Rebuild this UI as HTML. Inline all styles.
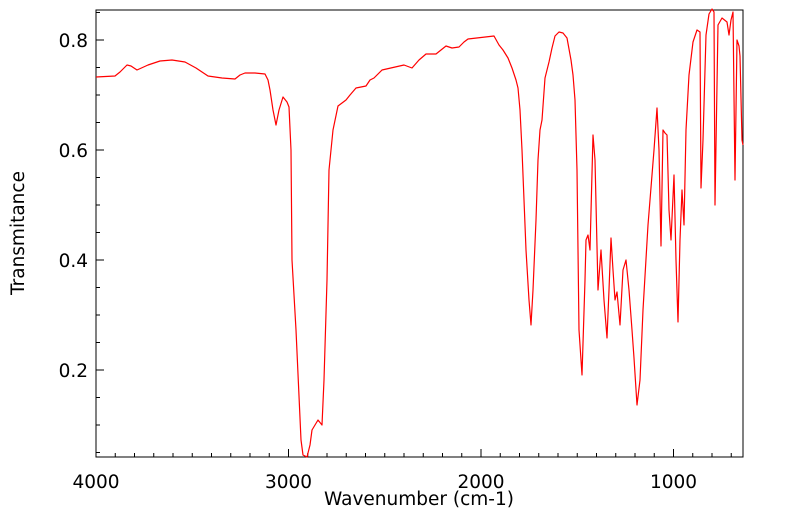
<!DOCTYPE html>
<html><head><style>body{margin:0;background:#fff}svg{display:block}text{font-family:"DejaVu Sans","Liberation Sans",sans-serif}</style></head>
<body>
<svg width="799" height="516" xmlns="http://www.w3.org/2000/svg">
<rect x="96" y="10" width="647" height="447" fill="none" stroke="#000" stroke-width="1"/>
<g stroke="#000" stroke-width="1">
<line x1="96" y1="457" x2="96" y2="449"/><line x1="288.5" y1="457" x2="288.5" y2="449"/><line x1="481" y1="457" x2="481" y2="449"/><line x1="673.5" y1="457" x2="673.5" y2="449"/>
<line x1="96" y1="40" x2="104" y2="40"/><line x1="96" y1="150" x2="104" y2="150"/><line x1="96" y1="260" x2="104" y2="260"/><line x1="96" y1="370" x2="104" y2="370"/>
</g>
<g stroke="#000" stroke-width="1">
<path d="M115.25 457v-4M134.5 457v-4M153.75 457v-4M173 457v-4M192.25 457v-4M211.5 457v-4M230.75 457v-4M250 457v-4M269.25 457v-4M307.75 457v-4M327 457v-4M346.25 457v-4M365.5 457v-4M384.75 457v-4M404 457v-4M423.25 457v-4M442.5 457v-4M461.75 457v-4M500.25 457v-4M519.5 457v-4M538.75 457v-4M558 457v-4M577.25 457v-4M596.5 457v-4M615.75 457v-4M635 457v-4M654.25 457v-4M692.75 457v-4M712 457v-4M731.25 457v-4"/>
<path d="M96 12.5h4M96 67.5h4M96 95h4M96 122.5h4M96 177.5h4M96 205h4M96 232.5h4M96 287.5h4M96 315h4M96 342.5h4M96 397.5h4M96 425h4M96 452.5h4"/>
</g>
<g font-size="18.5" fill="#000">
<text x="96" y="488" text-anchor="middle">4000</text><text x="288.5" y="488" text-anchor="middle">3000</text><text x="481" y="488" text-anchor="middle">2000</text><text x="673.5" y="488" text-anchor="middle">1000</text>
<text x="88" y="47" text-anchor="end">0.8</text><text x="88" y="157" text-anchor="end">0.6</text><text x="88" y="267" text-anchor="end">0.4</text><text x="88" y="377" text-anchor="end">0.2</text>
<text x="419" y="505" text-anchor="middle">Wavenumber (cm-1)</text>
<text transform="translate(24,233) rotate(-90)" text-anchor="middle">Transmitance</text>
</g>
<polyline fill="none" stroke="#f00" stroke-width="1.2" stroke-linejoin="round" points="96,77 115,76 120,72 127,65 131,66 137,70 148,65 160,61 172,60 185,62 196,68 208,76 222,78 235,79 240,75 245,73 255,73 265,74 268,80 270,90 273,110 276,125 279,110 283,97 287,102 289,107 291,150 292,260 296,330 301,440 303,455 307,457 310,445 312,430 318,420 322,425 324,380 327,280 329,170 333,130 338,106 346,100 350,95 356,88 366,86 370,80 374,78 382,70 404,65 412,68 419,60 426,54 436,54 446,46 452,48 459,47 464,42 468,39 494,36 499,45 503,50 508,58 512,68 516,80 518,88 520,110 522,150 526,250 529,300 531,325 533,290 536,220 538,160 540,130 542,120 545,78 549,62 552,48 555,36 559,32 563,33 567,38 571,60 573,75 575,100 577,170 579,330 582,375 585,280 586,240 588,235 590,250 593,135 595,160 598,290 601,250 604,300 607,338 609,290 611,238 613,270 615,300 617,292 620,325 623,270 626,260 629,290 632,330 634,358 637,405 640,380 643,310 648,225 654,150 657,108 659,150 661,246 663,130 665,133 667,135 669,210 671,240 674,175 676,260 678,322 680,240 682,190 684,225 686,130 689,75 693,42 697,30 700,32 701,188 703,140 706,35 709,14 712,9 714,12 715,205 718,25 722,18 727,22 729,35 731,20 733,12 735,180 737,40 739,46 740,56 742,140 743,145"/>
</svg>
</body></html>
